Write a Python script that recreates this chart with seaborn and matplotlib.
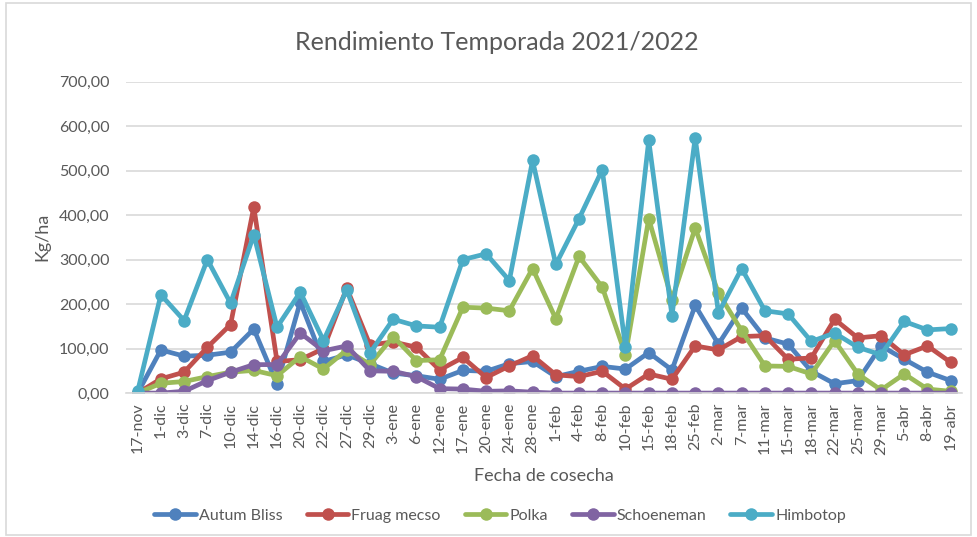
import matplotlib
matplotlib.use("Agg")
import matplotlib.pyplot as plt
from matplotlib.ticker import FuncFormatter, FixedLocator
from matplotlib.lines import Line2D
import seaborn as sns
import pandas as pd
import numpy as np

fechas = ["17-nov", "1-dic", "3-dic", "7-dic", "10-dic", "14-dic", "16-dic", "20-dic",
          "22-dic", "27-dic", "29-dic", "3-ene", "6-ene", "12-ene", "17-ene", "20-ene",
          "24-ene", "28-ene", "1-feb", "4-feb", "8-feb", "10-feb", "15-feb", "18-feb",
          "25-feb", "2-mar", "7-mar", "11-mar", "15-mar", "18-mar", "22-mar", "25-mar",
          "29-mar", "5-abr", "8-abr", "19-abr"]

autum_bliss = [0, 97, 83, 85, 92, 144, 20, 205, 71, 86, 66, 45, 39, 31, 51, 49, 66, 71, 37,
               49, 60, 54, 91, 52, 197, 110, 191, 124, 110, 49, 21, 28, 106, 76, 47, 28]
fruag_mecso = [0, 32, 47, 103, 154, 418, 71, 75, 100, 236, 108, 115, 103, 52, 80, 35, 61, 84, 41,
               37, 49, 9, 43, 31, 106, 97, 127, 129, 76, 79, 166, 124, 129, 86, 106, 69]
polka = [0, 22, 26, 37, 47, 51, 39, 82, 54, 97, 64, 127, 73, 75, 193, 191, 185, 280, 167,
         307, 238, 86, 392, 210, 371, 225, 140, 61, 60, 43, 118, 43, 7, 43, 9, 4]
schoeneman = [0, 0, 4, 28, 47, 64, 64, 135, 95, 106, 50, 49, 37, 10, 9, 4, 5, 2, 0,
              0, 0, 0, 0, 0, 0, 0, 0, 0, 0, 0, 0, 0, 0, 0, 0, 0]
himbotop = [4, 221, 163, 300, 202, 356, 148, 227, 118, 232, 90, 166, 151, 148, 300, 313, 253,
            523, 289, 392, 502, 103, 568, 174, 574, 180, 280, 185, 178, 116, 135, 103, 86,
            161, 142, 145]

variedades = ["Autum Bliss", "Fruag mecso", "Polka", "Schoeneman", "Himbotop"]
series = [autum_bliss, fruag_mecso, polka, schoeneman, himbotop]
colores = ["#4F81BD", "#C0504D", "#9BBB59", "#8064A2", "#4BACC6"]

df = pd.concat([pd.DataFrame({"Fecha": fechas, "Valor": s, "Variedad": v})
                for v, s in zip(variedades, series)], ignore_index=True)

sns.set_style("white")
plt.rcParams["font.family"] = ["Lato", "DejaVu Sans"]
txt = "#595959"

fig = plt.figure(figsize=(9.77, 5.37), dpi=100)
ax = fig.add_axes([0.129, 0.268, 0.856, 0.58])

sns.lineplot(data=df, x="Fecha", y="Valor", hue="Variedad", hue_order=variedades,
             palette=colores, marker="o", markersize=9, markeredgewidth=0,
             linewidth=3.4, sort=False, ax=ax, legend=False)

ax.set_xlim(-0.5, len(fechas) - 0.5)
ax.set_ylim(0, 700)
ax.set_yticks(np.arange(0, 701, 100))
ax.yaxis.set_major_formatter(FuncFormatter(lambda v, p: f"{v:.2f}".replace(".", ",")))
ax.grid(axis="y", color="#D9D9D9", linewidth=1.2)
ax.set_axisbelow(True)
for s in ["top", "right", "left"]:
    ax.spines[s].set_visible(False)
ax.spines["bottom"].set_color("#D9D9D9")
ax.spines["bottom"].set_linewidth(1.2)

ax.set_xticks(range(len(fechas)))
ax.set_xticklabels(fechas, rotation=90, fontsize=11.5, color=txt)
ax.xaxis.set_minor_locator(FixedLocator(np.arange(-0.5, len(fechas), 1.0)))
ax.tick_params(axis="x", which="major", length=0, pad=7)
ax.tick_params(axis="x", which="minor", length=5, color="#D9D9D9", width=1.2)
ax.tick_params(axis="y", length=0, labelsize=11.5, labelcolor=txt, pad=12)

ax.set_xlabel("Fecha de cosecha", fontsize=13, color=txt, labelpad=10)
ax.set_ylabel("Kg/ha", fontsize=13, color=txt, labelpad=6)

fig.text(0.508, 0.92, "Rendimiento Temporada 2021/2022", ha="center", va="center",
         fontsize=18, color=txt)

handles = [Line2D([0], [0], color=c, linewidth=3.4, marker="o", markersize=9,
                  markeredgewidth=0) for c in colores]
fig.legend(handles, variedades, loc="center", bbox_to_anchor=(0.512, 0.04), ncol=5,
           frameon=False, fontsize=11.5, labelcolor=txt, handlelength=2.6,
           handletextpad=0.2, columnspacing=1.5)

border = plt.Rectangle((0.006, 0.004), 0.988, 0.99, transform=fig.transFigure,
                       fill=False, edgecolor="#D9D9D9", linewidth=1.2)
fig.patches.append(border)

fig.savefig("out.png", dpi=100)
